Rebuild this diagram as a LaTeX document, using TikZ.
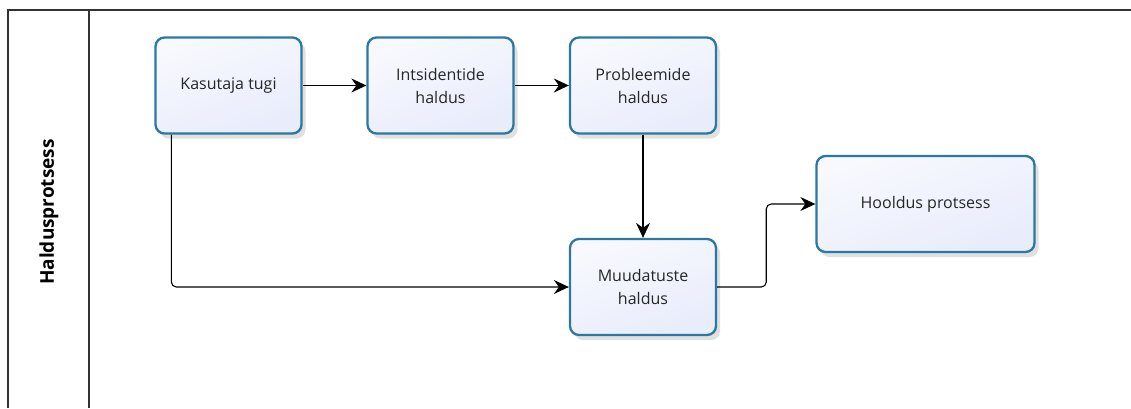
\documentclass[tikz,border=0pt]{standalone}
\usepackage{fontspec}
\setmainfont{Open Sans}
\usetikzlibrary{arrows.meta,shadows,calc}
\definecolor{boxline}{HTML}{2A78A3}
\definecolor{boxtop}{HTML}{F8F9FE}
\definecolor{boxbot}{HTML}{E8ECFB}
\definecolor{frameline}{HTML}{333333}
\tikzset{
  procbox/.style={draw=boxline, line width=2.3pt, rounded corners=9pt,
    top color=boxtop, bottom color=boxbot, shading angle=20,
    minimum width=146pt, minimum height=96pt, align=center,
    font=\fontsize{16}{23}\selectfont, text=black!85,
    drop shadow={shadow xshift=4pt, shadow yshift=-5pt, fill=black, opacity=0.12}},
  flow/.style={line width=1.1pt, draw=black,
    -{Stealth[length=15pt, width=14pt, inset=5pt]}},
  elbow/.style={rounded corners=5pt},
  lane/.style={draw=frameline, line width=1.3pt}
}
\begin{document}
\begin{tikzpicture}[x=1pt, y=-1pt]
  \useasboundingbox (0,0) rectangle (1131,408);
  % swimlane frame
  \coordinate (ftl) at (8,10);
  \coordinate (ftr) at (1131,10);
  \coordinate (fbl) at (8,408);
  \coordinate (dtop) at (89,10);
  \coordinate (dbot) at (89,408);
  \draw[lane] (fbl) -- (ftl) -- (ftr);
  \draw[lane] (dtop) -- (dbot);
  \node[rotate=90, font=\fontsize{19}{21}\selectfont\bfseries] (lanetitle) at (49,212) {Haldusprotsess};
  % process boxes
  \node[procbox] (kt) at (228.5,85.5) {Kasutaja tugi};
  \node[procbox] (ih) at (440.5,85.5) {Intsidentide\\haldus};
  \node[procbox] (ph) at (643,85.5) {Probleemide\\haldus};
  \node[procbox] (mh) at (643,287) {Muudatuste\\haldus};
  \node[procbox, minimum width=218pt] (hp) at (925.5,204) {Hooldus protsess};
  % connectors
  \draw[flow] (kt.east) -- (ih.west);
  \draw[flow] (ih.east) -- (ph.west);
  \draw[flow] (ph.south) -- (mh.north);
  \draw[flow, elbow] ([xshift=17pt]kt.south west) |- (mh.west);
  \coordinate (mid) at ($(mh.east)!0.5!(hp.west)$);
  \draw[flow, elbow] (mh.east) -| (mid) |- (hp.west);
\end{tikzpicture}
\end{document}
